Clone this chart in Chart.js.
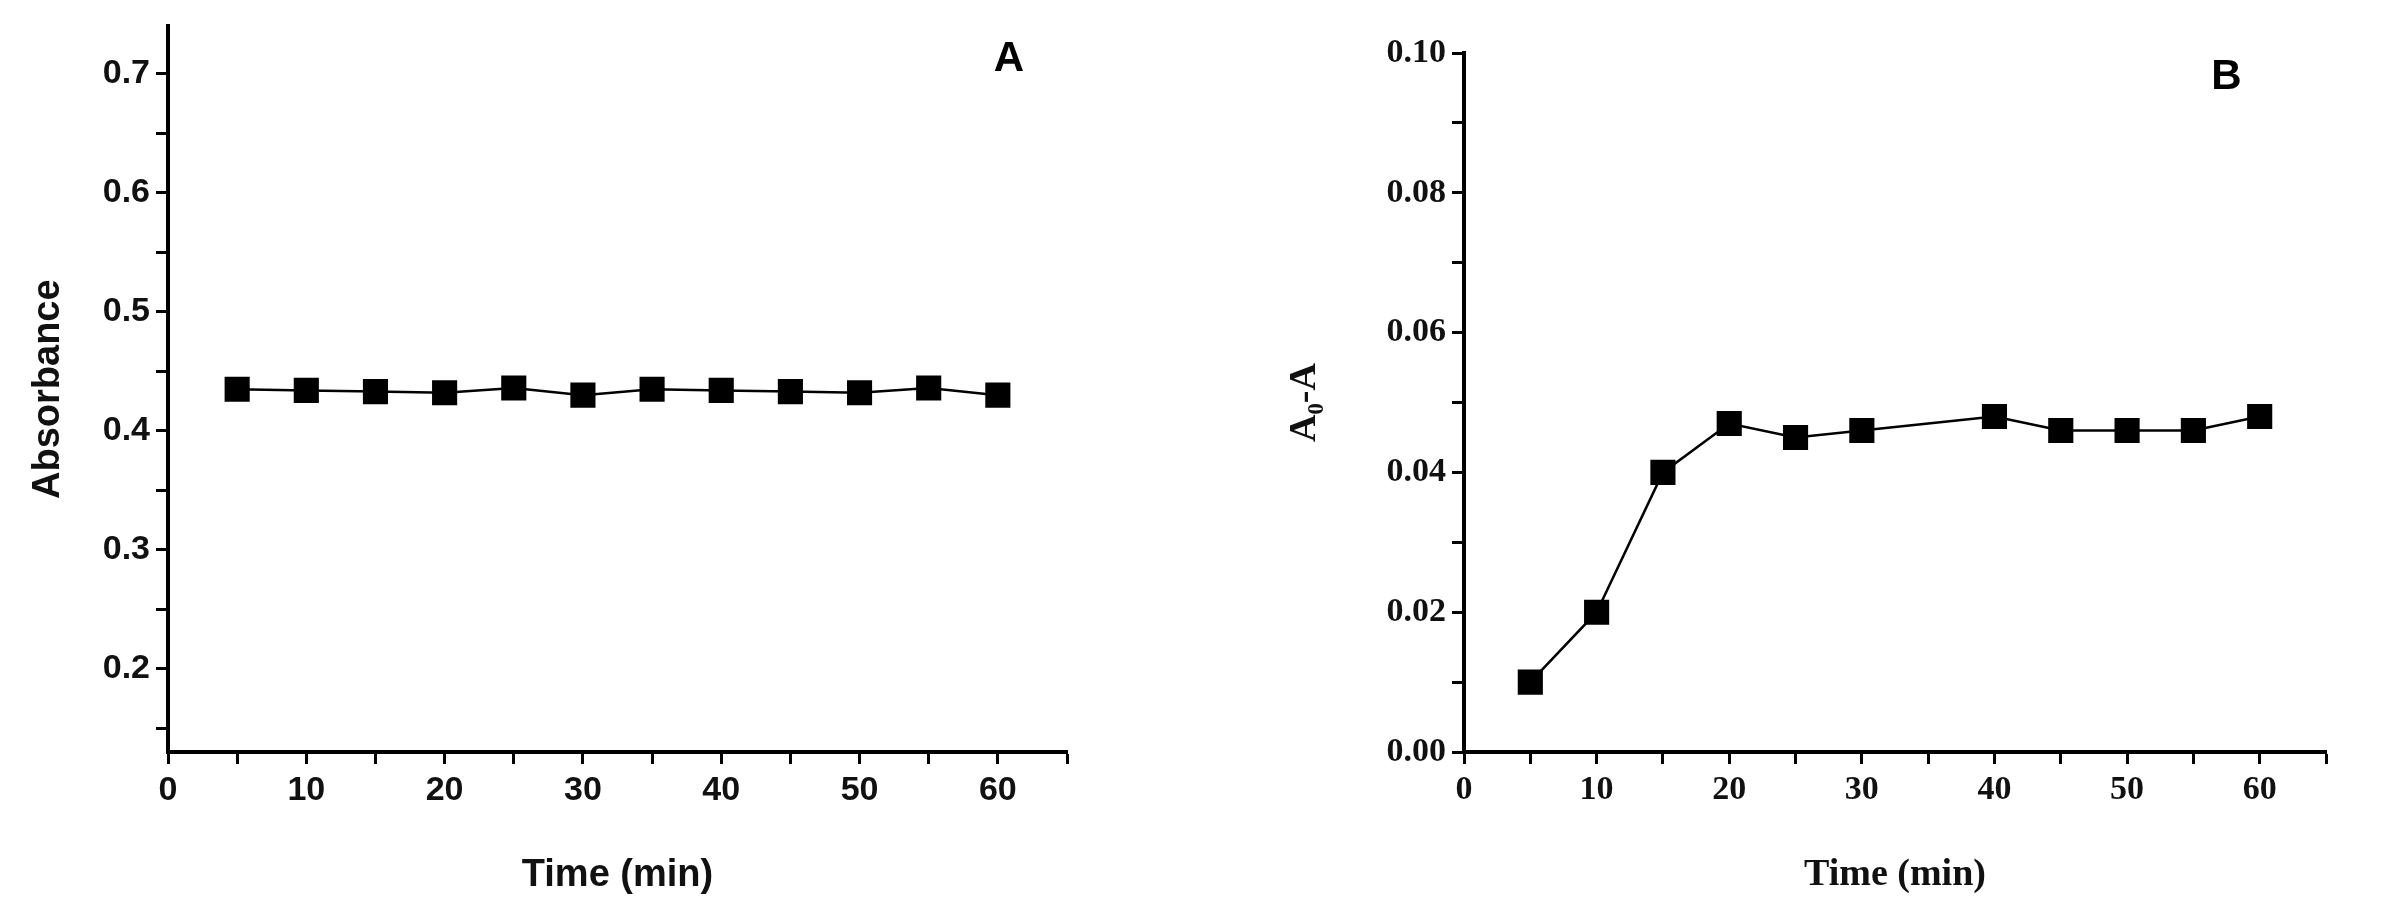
<!DOCTYPE html>
<html>
<head>
<meta charset="utf-8">
<script src="https://cdn.jsdelivr.net/npm/chart.js@4"></script>
<style>
  body { margin: 0; background: #fff; }
  .panel { position: absolute; top: 0; height: 902px; }
</style>
</head>
<body>
<div class="panel" style="left:0;width:1150px"><canvas id="chartA"></canvas></div>
<div class="panel" style="left:1150px;width:1241px"><canvas id="chartB"></canvas></div>
<script>
// Panel A: absorbance over time
const timeA = [5, 10, 15, 20, 25, 30, 35, 40, 45, 50, 55, 60];
const absorbance = [0.435, 0.434, 0.433, 0.432, 0.436, 0.430, 0.435, 0.434, 0.433, 0.432, 0.436, 0.430];
const ticksAX = [0, 5, 10, 15, 20, 25, 30, 35, 40, 45, 50, 55, 60, 65];
const ticksAY = [0.15, 0.2, 0.25, 0.3, 0.35, 0.4, 0.45, 0.5, 0.55, 0.6, 0.65, 0.7];

// Panel B: A0-A over time
const timeB = [5, 10, 15, 20, 25, 30, 40, 45, 50, 55, 60];
const deltaA = [0.010, 0.020, 0.040, 0.047, 0.045, 0.046, 0.048, 0.046, 0.046, 0.046, 0.048];
const ticksBX = [0, 5, 10, 15, 20, 25, 30, 35, 40, 45, 50, 55, 60, 65];
const ticksBY = [0, 0.01, 0.02, 0.03, 0.04, 0.05, 0.06, 0.07, 0.08, 0.09, 0.10];

const panelLabel = {
  id: "panelLabel",
  afterDraw(chart, args, opts) {
    const { ctx, scales } = chart;
    ctx.save();
    ctx.fillStyle = "#000";
    ctx.font = opts.font;
    ctx.textAlign = "center";
    ctx.textBaseline = "middle";
    ctx.fillText(opts.text, scales.x.getPixelForValue(opts.x), scales.y.getPixelForValue(opts.y));
    ctx.restore();
  },
};

function axis(list, min, max, family, labelFn, size, titleText) {
  return {
    type: "linear",
    min: min,
    max: max,
    afterBuildTicks: (s) => { s.ticks = list.map((v) => ({ value: v })); },
    border: { color: "#000", width: 4 },
    grid: { drawOnChartArea: false, color: "#000", tickLength: 12, tickWidth: 3 },
    ticks: {
      color: "#111",
      font: { family: family, size: size, weight: "bold" },
      padding: 6,
      autoSkip: false,
      maxRotation: 0,
      callback: labelFn,
    },
    title: {
      display: true,
      text: titleText,
      color: "#111",
      font: { family: family, size: 38, weight: "bold" },
    },
  };
}

function makeChart(id, xs, ys, cfg) {
  const xScale = axis(cfg.xTicks, 0, 65, cfg.family, cfg.xLabel, cfg.tickSize, "Time (min)");
  xScale.afterFit = (s) => { s.height = 150; };
  xScale.title.padding = { top: 10 };
  const yScale = axis(cfg.yTicks, cfg.yMin, cfg.yMax, cfg.family, cfg.yLabel, cfg.tickSize, cfg.yTitle);
  yScale.afterFit = (s) => { s.width = cfg.yWidth; };
  yScale.title.padding = { bottom: 0 };
  return new Chart(document.getElementById(id), {
    type: "line",
    data: {
      datasets: [{
        data: xs.map((x, i) => ({ x: x, y: ys[i] })),
        borderColor: "#000",
        backgroundColor: "#000",
        borderWidth: 2.5,
        pointStyle: "rect",
        pointRadius: 16,
        pointBorderColor: "#000",
        pointBackgroundColor: "#000",
        tension: 0,
      }],
    },
    options: {
      responsive: true,
      maintainAspectRatio: false,
      animation: false,
      layout: { padding: { top: cfg.top, right: cfg.right, left: cfg.left, bottom: 0 } },
      plugins: {
        legend: { display: false },
        tooltip: { enabled: false },
        panelLabel: cfg.label,
      },
      scales: { x: xScale, y: yScale },
    },
    plugins: [panelLabel],
  });
}

makeChart("chartA", timeA, absorbance, {
  family: "Liberation Sans",
  tickSize: 34,
  xTicks: ticksAX,
  yTicks: ticksAY,
  yMin: 0.13,
  yMax: 0.74,
  left: 22,
  yWidth: 146,
  yTitle: "Absorbance",
  top: 15,
  right: 83,
  xLabel: (v) => (v % 10 === 0 ? v : ""),
  yLabel: (v) => (Math.round(v * 100) % 10 === 0 ? v.toFixed(1) : ""),
  label: { text: "A", x: 60.8, y: 0.712, font: "bold 42px 'Liberation Sans'" },
});

makeChart("chartB", timeB, deltaA, {
  family: "Liberation Serif",
  tickSize: 34,
  xTicks: ticksBX,
  yTicks: ticksBY,
  yMin: 0,
  yMax: 0.10,
  left: 128,
  yWidth: 186,
  yTitle: "A\u2080-A",
  top: 53,
  right: 65,
  xLabel: (v) => (v % 10 === 0 ? v : ""),
  yLabel: (v) => (Math.round(v * 100) % 2 === 0 ? v.toFixed(2) : ""),
  label: { text: "B", x: 57.5, y: 0.0965, font: "bold 42px 'Liberation Sans'" },
});
</script>
</body>
</html>
